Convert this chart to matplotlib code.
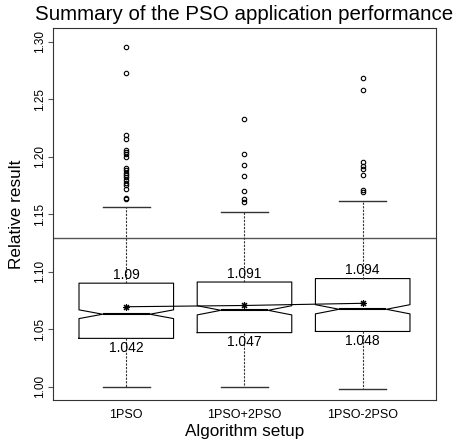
import matplotlib
matplotlib.use("Agg")
from matplotlib import pyplot as plt

plt.rcParams['font.family'] = ['Liberation Sans', 'DejaVu Sans']

## values
setups = ['1PSO', '1PSO+2PSO', '1PSO-2PSO']
q1 = [1.042, 1.047, 1.048]
q3 = [1.090, 1.091, 1.094]
medians = [1.0630, 1.0664, 1.0673]
notch_half = [0.0038, 0.0040, 0.0040]
whis_low = [1.000, 1.000, 0.998]
whis_high = [1.156, 1.152, 1.1617]
means = [1.0695, 1.0706, 1.0725]
outliers_1pso = [1.295, 1.273, 1.219, 1.215, 1.206, 1.204, 1.202, 1.200,
                 1.190, 1.188, 1.186, 1.184, 1.182, 1.180, 1.177, 1.175,
                 1.172, 1.164, 1.163]
outliers_1p2 = [1.233, 1.202, 1.193, 1.183, 1.170, 1.163, 1.161]
outliers_1m2 = [1.268, 1.258, 1.195, 1.192, 1.189, 1.184, 1.171, 1.169]
threshold = 1.129
yticks = [1.00, 1.05, 1.10, 1.15, 1.20, 1.25, 1.30]

fliers = [outliers_1pso, outliers_1p2, outliers_1m2]
positions = [1, 2, 3]

stats = []
for i in range(len(setups)):
    stats.append(dict(label=setups[i], med=medians[i], q1=q1[i], q3=q3[i],
                      whislo=whis_low[i], whishi=whis_high[i], fliers=fliers[i],
                      cilo=medians[i] - notch_half[i], cihi=medians[i] + notch_half[i]))

fig = plt.figure(figsize=(4.6, 4.44), dpi=100)
ax = fig.add_axes([0.1152, 0.0991, 0.8326, 0.8378])

ax.axhline(threshold, color='#555555', lw=1.0, zorder=1)

ax.bxp(stats, positions=positions, widths=0.8, shownotches=True,
       boxprops=dict(color='black', lw=0.8),
       medianprops=dict(color='black', lw=1.5),
       whiskerprops=dict(color='#333333', lw=0.8, linestyle=(0, (2, 1.2))),
       capprops=dict(color='#333333', lw=1.0),
       flierprops=dict(marker='o', markerfacecolor='none', markeredgecolor='black',
                       markersize=3.2, markeredgewidth=0.8))

ax.plot(positions, means, color='black', lw=0.8, marker=(8, 2, 0), ms=5, mew=0.8, zorder=5)

for p, v in zip(positions, q3):
    ax.annotate('%g' % v, (p, v), xytext=(0, 3), textcoords='offset points',
                ha='center', va='baseline', fontsize=10)
for p, v in zip(positions, q1):
    ax.annotate('%g' % v, (p, v), xytext=(0, -1.7), textcoords='offset points',
                ha='center', va='top', fontsize=10)

ax.set_xlim(0.38, 3.62)
ax.set_ylim(0.9884, 1.3119)
ax.set_yticks(yticks)
ax.set_yticklabels(['%.2f' % t for t in yticks], rotation=90, va='center', fontsize=8.5)
ax.set_xticks(positions)
ax.set_xticklabels(setups, fontsize=9)
ax.tick_params(axis='x', length=0, pad=6.5)
ax.tick_params(axis='y', length=3.6, width=0.8, color='#555555', pad=1.5)

for s in ax.spines.values():
    s.set_color('#333333')
    s.set_linewidth(0.8)

ax.set_title('Summary of the PSO application performance', fontsize=14.8, pad=6)
ax.set_xlabel('Algorithm setup', fontsize=12.3, labelpad=2)
ax.set_ylabel('Relative result', fontsize=12.3, labelpad=7)

fig.savefig('out.png', dpi=100)
